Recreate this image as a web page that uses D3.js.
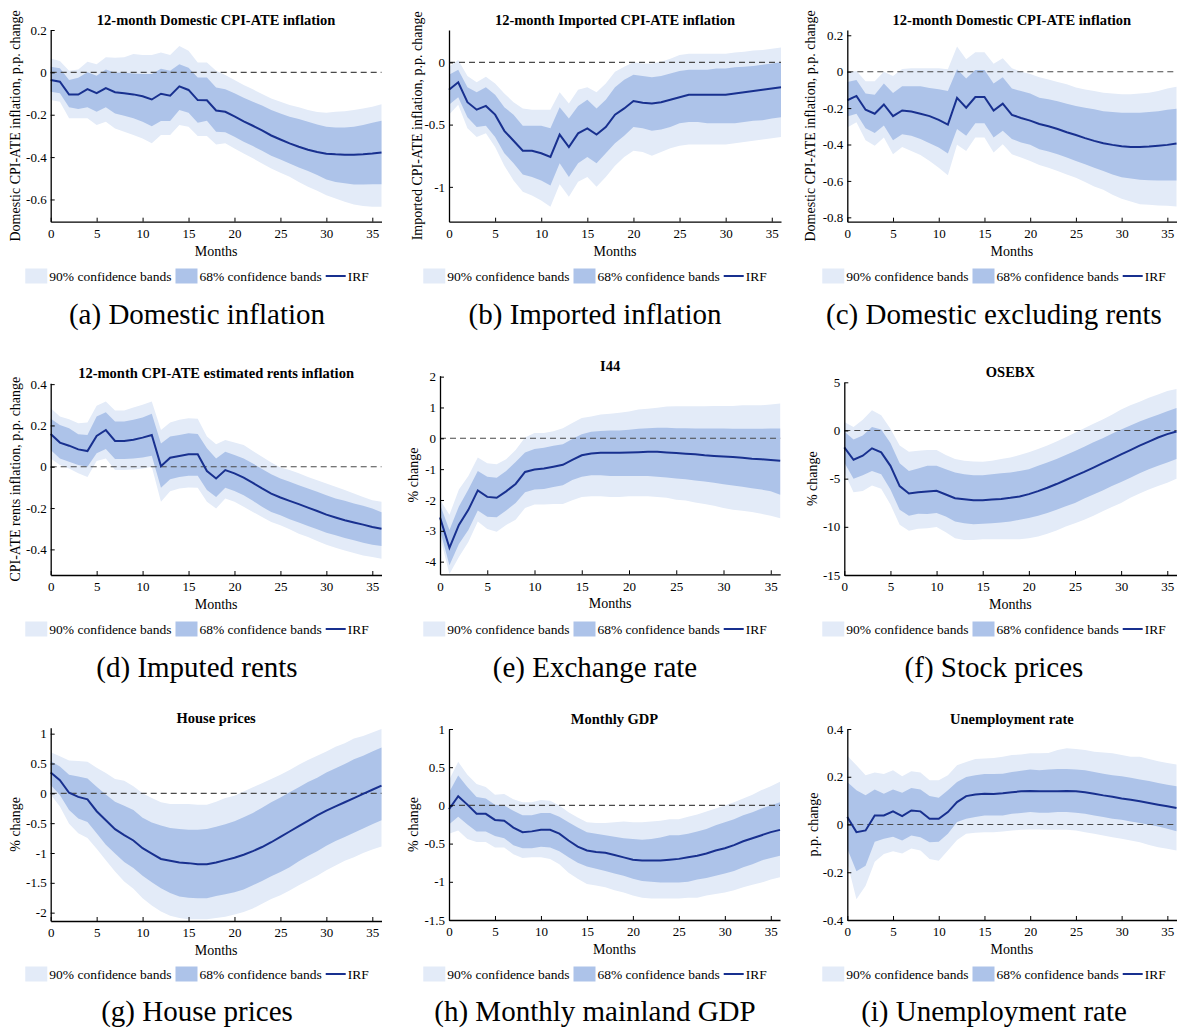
<!DOCTYPE html>
<html>
<head>
<meta charset="utf-8">
<script src="https://cdn.jsdelivr.net/npm/d3@7"></script>
<style>
  body { margin: 0; background: #fff; }
  svg { display: block; }
  text { font-family: "Liberation Serif", "Times New Roman", serif; fill: #000; }
</style>
</head>
<body>
<svg id="chart" width="1181" height="1030"></svg>
<script>
// months after the shock
const months = d3.range(0, 37);
const xTicks = [0, 5, 10, 15, 20, 25, 30, 35];

// (a) domestic CPI-ATE inflation
const domIrf  = [-0.036,-0.044,-0.105,-0.105,-0.079,-0.098,-0.074,-0.094,-0.099,-0.104,-0.113,-0.128,-0.101,-0.110,-0.066,-0.083,-0.131,-0.132,-0.180,-0.186,-0.208,-0.231,-0.252,-0.274,-0.298,-0.317,-0.335,-0.351,-0.365,-0.376,-0.384,-0.387,-0.389,-0.389,-0.387,-0.383,-0.378];
const domHi68 = [0.027,0.019,-0.036,-0.025,0.0,-0.016,0.014,-0.002,-0.002,-0.005,-0.008,-0.008,0.017,0.008,0.038,0.022,-0.024,-0.024,-0.071,-0.080,-0.099,-0.120,-0.139,-0.157,-0.178,-0.194,-0.209,-0.220,-0.233,-0.246,-0.257,-0.260,-0.260,-0.257,-0.249,-0.238,-0.228];
const domLo68 = [-0.091,-0.099,-0.165,-0.173,-0.165,-0.186,-0.165,-0.194,-0.205,-0.217,-0.233,-0.254,-0.230,-0.230,-0.178,-0.191,-0.238,-0.228,-0.280,-0.283,-0.304,-0.328,-0.348,-0.370,-0.394,-0.411,-0.430,-0.449,-0.466,-0.485,-0.506,-0.517,-0.524,-0.529,-0.529,-0.528,-0.528];
const domHi90 = [0.066,0.054,0.008,0.014,0.050,0.038,0.071,0.069,0.071,0.087,0.082,0.082,0.094,0.082,0.124,0.102,0.046,0.046,0.008,-0.013,-0.036,-0.060,-0.080,-0.102,-0.123,-0.139,-0.154,-0.165,-0.178,-0.187,-0.191,-0.186,-0.183,-0.178,-0.170,-0.162,-0.150];
const domLo90 = [-0.131,-0.139,-0.217,-0.217,-0.217,-0.249,-0.233,-0.265,-0.280,-0.296,-0.312,-0.335,-0.296,-0.296,-0.249,-0.257,-0.301,-0.301,-0.340,-0.335,-0.359,-0.383,-0.406,-0.430,-0.454,-0.474,-0.493,-0.517,-0.540,-0.559,-0.580,-0.595,-0.611,-0.624,-0.631,-0.635,-0.635];
const domTicks = [0.2, 0, -0.2, -0.4, -0.6];

// (b) imported CPI-ATE inflation
const impIrf  = [-0.22,-0.16,-0.32,-0.38,-0.35,-0.42,-0.55,-0.63,-0.71,-0.71,-0.73,-0.76,-0.58,-0.68,-0.57,-0.53,-0.58,-0.52,-0.42,-0.37,-0.31,-0.325,-0.33,-0.32,-0.30,-0.28,-0.26,-0.26,-0.26,-0.26,-0.26,-0.25,-0.24,-0.23,-0.22,-0.21,-0.20];
const impHi68 = [-0.10,-0.06,-0.20,-0.24,-0.20,-0.26,-0.36,-0.42,-0.51,-0.51,-0.51,-0.53,-0.36,-0.45,-0.35,-0.30,-0.37,-0.30,-0.20,-0.14,-0.10,-0.11,-0.12,-0.11,-0.09,-0.07,-0.06,-0.06,-0.06,-0.05,-0.05,-0.04,-0.035,-0.03,-0.02,-0.01,0.0];
const impLo68 = [-0.34,-0.28,-0.44,-0.52,-0.51,-0.60,-0.73,-0.81,-0.90,-0.92,-0.95,-0.99,-0.81,-0.92,-0.81,-0.76,-0.81,-0.73,-0.65,-0.59,-0.52,-0.53,-0.55,-0.54,-0.52,-0.49,-0.48,-0.48,-0.49,-0.49,-0.49,-0.49,-0.48,-0.47,-0.465,-0.45,-0.44];
const impHi90 = [-0.035,0.02,-0.11,-0.16,-0.115,-0.17,-0.25,-0.32,-0.37,-0.38,-0.38,-0.38,-0.24,-0.33,-0.22,-0.20,-0.24,-0.17,-0.075,-0.035,0.0,-0.01,-0.01,0.005,0.03,0.06,0.07,0.07,0.07,0.07,0.07,0.08,0.085,0.095,0.10,0.11,0.12];
const impLo90 = [-0.42,-0.34,-0.53,-0.60,-0.57,-0.68,-0.83,-0.95,-1.04,-1.07,-1.11,-1.16,-0.98,-1.08,-0.96,-0.92,-1.00,-0.92,-0.83,-0.76,-0.71,-0.72,-0.75,-0.72,-0.69,-0.67,-0.66,-0.66,-0.66,-0.66,-0.66,-0.65,-0.64,-0.63,-0.62,-0.61,-0.60];
const impTicks = [0, -0.5, -1];

// (c) domestic excluding rents
const exrIrf  = [-0.157,-0.133,-0.209,-0.231,-0.180,-0.244,-0.213,-0.219,-0.231,-0.244,-0.265,-0.291,-0.144,-0.198,-0.139,-0.139,-0.213,-0.176,-0.237,-0.254,-0.269,-0.287,-0.300,-0.315,-0.333,-0.348,-0.365,-0.380,-0.393,-0.402,-0.409,-0.413,-0.413,-0.411,-0.407,-0.402,-0.394];
const exrHi68 = [-0.056,-0.046,-0.120,-0.126,-0.065,-0.117,-0.080,-0.080,-0.080,-0.089,-0.096,-0.106,0.013,-0.037,0.009,0.009,-0.065,-0.031,-0.093,-0.106,-0.120,-0.143,-0.152,-0.163,-0.176,-0.189,-0.198,-0.207,-0.217,-0.222,-0.226,-0.226,-0.226,-0.222,-0.217,-0.209,-0.204];
const exrLo68 = [-0.246,-0.231,-0.311,-0.337,-0.296,-0.376,-0.343,-0.352,-0.370,-0.393,-0.417,-0.450,-0.315,-0.352,-0.283,-0.283,-0.361,-0.324,-0.370,-0.389,-0.402,-0.426,-0.439,-0.454,-0.472,-0.491,-0.509,-0.528,-0.546,-0.565,-0.580,-0.587,-0.593,-0.596,-0.598,-0.598,-0.598];
const exrHi90 = [-0.006,0.004,-0.052,-0.052,0.0,-0.024,0.015,0.019,0.019,0.019,0.019,0.013,0.139,0.069,0.107,0.107,0.043,0.074,0.019,0.0,-0.013,-0.031,-0.043,-0.056,-0.069,-0.087,-0.098,-0.106,-0.115,-0.120,-0.124,-0.124,-0.120,-0.115,-0.106,-0.093,-0.083];
const exrLo90 = [-0.306,-0.278,-0.376,-0.407,-0.361,-0.454,-0.413,-0.435,-0.457,-0.491,-0.528,-0.569,-0.402,-0.435,-0.361,-0.361,-0.444,-0.398,-0.454,-0.472,-0.491,-0.513,-0.528,-0.546,-0.565,-0.583,-0.606,-0.630,-0.648,-0.676,-0.698,-0.713,-0.728,-0.731,-0.735,-0.737,-0.741];
const exrTicks = [0.2, 0, -0.2, -0.4, -0.6, -0.8];

// (d) imputed rents
const rentIrf  = [0.159,0.117,0.102,0.084,0.076,0.149,0.178,0.125,0.125,0.131,0.141,0.154,0.003,0.044,0.052,0.060,0.060,-0.021,-0.057,-0.016,-0.032,-0.053,-0.078,-0.105,-0.130,-0.149,-0.165,-0.181,-0.198,-0.214,-0.232,-0.246,-0.259,-0.270,-0.280,-0.292,-0.300];
const rentHi68 = [0.232,0.202,0.186,0.157,0.154,0.243,0.264,0.219,0.219,0.227,0.238,0.256,0.113,0.146,0.154,0.162,0.159,0.089,0.040,0.073,0.057,0.040,0.016,-0.011,-0.036,-0.057,-0.073,-0.089,-0.105,-0.121,-0.138,-0.154,-0.165,-0.178,-0.189,-0.202,-0.220];
const rentLo68 = [0.081,0.040,0.024,0.008,0.0,0.065,0.086,0.037,0.037,0.040,0.045,0.053,-0.102,-0.060,-0.049,-0.044,-0.044,-0.113,-0.146,-0.102,-0.117,-0.138,-0.165,-0.194,-0.219,-0.235,-0.254,-0.270,-0.287,-0.303,-0.319,-0.332,-0.345,-0.356,-0.368,-0.377,-0.384];
const rentHi90 = [0.283,0.243,0.230,0.211,0.214,0.295,0.316,0.272,0.272,0.287,0.300,0.316,0.178,0.214,0.227,0.235,0.232,0.146,0.109,0.130,0.118,0.105,0.076,0.049,0.021,-0.003,-0.016,-0.032,-0.049,-0.065,-0.081,-0.097,-0.113,-0.130,-0.146,-0.162,-0.170];
const rentLo90 = [0.040,0.008,-0.008,-0.032,-0.049,0.028,0.040,-0.016,-0.016,-0.013,-0.008,0.0,-0.170,-0.118,-0.105,-0.100,-0.102,-0.170,-0.202,-0.154,-0.170,-0.194,-0.219,-0.243,-0.267,-0.283,-0.303,-0.324,-0.340,-0.360,-0.377,-0.392,-0.405,-0.418,-0.429,-0.437,-0.445];
const rentTicks = [0.4, 0.2, 0, -0.2, -0.4];

// (e) exchange rate, I44
const fxIrf  = [-2.57,-3.55,-2.81,-2.32,-1.69,-1.90,-1.93,-1.72,-1.48,-1.09,-1.01,-0.98,-0.92,-0.86,-0.70,-0.55,-0.49,-0.47,-0.47,-0.47,-0.46,-0.45,-0.44,-0.44,-0.46,-0.48,-0.50,-0.52,-0.55,-0.57,-0.59,-0.61,-0.63,-0.66,-0.68,-0.70,-0.73];
const fxHi68 = [-2.15,-2.97,-2.21,-1.66,-1.06,-1.25,-1.28,-1.06,-0.77,-0.46,-0.35,-0.31,-0.24,-0.19,-0.02,0.13,0.21,0.24,0.25,0.25,0.28,0.31,0.33,0.34,0.34,0.33,0.33,0.32,0.32,0.32,0.32,0.31,0.31,0.31,0.31,0.32,0.32];
const fxLo68 = [-2.97,-4.12,-3.43,-2.97,-2.34,-2.54,-2.56,-2.34,-2.10,-1.75,-1.66,-1.64,-1.58,-1.52,-1.35,-1.25,-1.20,-1.20,-1.22,-1.22,-1.22,-1.22,-1.22,-1.25,-1.27,-1.30,-1.33,-1.37,-1.40,-1.44,-1.49,-1.53,-1.57,-1.62,-1.66,-1.72,-1.83];
const fxHi90 = [-1.99,-2.48,-1.66,-1.22,-0.62,-0.81,-0.84,-0.68,-0.38,0.03,0.17,0.17,0.23,0.33,0.50,0.66,0.71,0.77,0.80,0.83,0.87,0.93,0.96,0.99,1.03,1.04,1.04,1.04,1.04,1.05,1.05,1.05,1.07,1.07,1.07,1.10,1.13];
const fxLo90 = [-3.19,-4.40,-3.85,-3.36,-2.70,-2.94,-3.03,-2.81,-2.64,-2.26,-2.15,-2.15,-2.13,-2.13,-2.01,-1.90,-1.88,-1.88,-1.90,-1.90,-1.88,-1.88,-1.88,-1.90,-1.93,-1.99,-2.02,-2.08,-2.13,-2.19,-2.26,-2.32,-2.35,-2.39,-2.45,-2.51,-2.59];
const fxTicks = [2, 1, 0, -1, -2, -3, -4];

// (f) stock prices, OSEBX
const stockIrf  = [-1.75,-3.04,-2.62,-1.85,-2.27,-3.67,-5.77,-6.54,-6.40,-6.33,-6.26,-6.64,-7.03,-7.13,-7.24,-7.24,-7.17,-7.10,-6.99,-6.85,-6.61,-6.29,-5.94,-5.56,-5.14,-4.72,-4.30,-3.85,-3.39,-2.94,-2.48,-2.03,-1.57,-1.15,-0.73,-0.38,-0.10];
const stockHi68 = [-0.10,-0.94,-0.52,0.35,0.10,-1.29,-3.39,-4.20,-3.95,-3.67,-3.67,-4.02,-4.37,-4.55,-4.65,-4.65,-4.55,-4.44,-4.37,-4.20,-4.02,-3.67,-3.32,-2.97,-2.55,-2.13,-1.68,-1.22,-0.80,-0.35,0.10,0.52,0.94,1.29,1.64,1.99,2.34];
const stockLo68 = [-3.32,-5.00,-4.65,-4.20,-4.55,-6.12,-8.22,-8.85,-8.64,-8.67,-8.57,-8.92,-9.44,-9.62,-9.72,-9.69,-9.62,-9.55,-9.44,-9.27,-9.09,-8.85,-8.57,-8.22,-7.87,-7.52,-7.06,-6.64,-6.22,-5.77,-5.35,-4.90,-4.44,-4.02,-3.67,-3.32,-2.97];
const stockHi90 = [0.87,0.35,1.12,2.10,1.57,0.17,-1.57,-2.20,-2.10,-2.03,-2.03,-2.55,-2.97,-3.15,-3.22,-3.25,-3.15,-2.97,-2.80,-2.55,-2.27,-1.92,-1.57,-1.15,-0.70,-0.24,0.24,0.70,1.15,1.64,2.17,2.62,2.97,3.39,3.74,4.09,4.30];
const stockLo90 = [-4.37,-6.40,-6.29,-5.70,-6.05,-7.69,-9.79,-10.42,-10.21,-10.14,-10.03,-10.56,-11.19,-11.36,-11.36,-11.29,-11.29,-11.29,-11.29,-11.29,-11.19,-11.01,-10.73,-10.38,-9.97,-9.62,-9.27,-8.85,-8.39,-7.94,-7.52,-6.99,-6.54,-6.12,-5.77,-5.42,-5.00];
const stockTicks = [5, 0, -5, -10, -15];

// (g) house prices
const houseIrf  = [0.35,0.22,0.01,-0.06,-0.10,-0.30,-0.45,-0.60,-0.70,-0.79,-0.92,-1.01,-1.10,-1.13,-1.16,-1.17,-1.19,-1.19,-1.16,-1.12,-1.08,-1.03,-0.97,-0.90,-0.82,-0.73,-0.64,-0.55,-0.46,-0.37,-0.29,-0.22,-0.15,-0.08,-0.01,0.06,0.13];
const houseHi68 = [0.54,0.45,0.31,0.28,0.25,0.11,-0.02,-0.14,-0.21,-0.28,-0.41,-0.49,-0.54,-0.58,-0.60,-0.61,-0.61,-0.60,-0.56,-0.52,-0.47,-0.40,-0.33,-0.24,-0.15,-0.07,0.02,0.10,0.19,0.26,0.35,0.42,0.49,0.57,0.63,0.70,0.77];
const houseLo68 = [0.14,-0.03,-0.28,-0.42,-0.48,-0.67,-0.86,-1.01,-1.15,-1.25,-1.38,-1.49,-1.59,-1.67,-1.73,-1.75,-1.76,-1.76,-1.72,-1.69,-1.66,-1.61,-1.54,-1.47,-1.39,-1.32,-1.24,-1.14,-1.05,-0.97,-0.88,-0.80,-0.73,-0.66,-0.59,-0.52,-0.45];
const houseHi90 = [0.69,0.62,0.55,0.54,0.53,0.43,0.34,0.24,0.21,0.12,0.0,-0.08,-0.15,-0.18,-0.18,-0.18,-0.19,-0.19,-0.14,-0.08,-0.04,0.03,0.10,0.17,0.24,0.31,0.39,0.48,0.56,0.63,0.70,0.78,0.84,0.92,0.96,1.02,1.08];
const houseLo90 = [-0.02,-0.22,-0.51,-0.67,-0.75,-0.93,-1.12,-1.31,-1.48,-1.60,-1.76,-1.88,-1.98,-2.05,-2.09,-2.11,-2.11,-2.11,-2.09,-2.07,-2.03,-1.99,-1.93,-1.85,-1.77,-1.71,-1.63,-1.54,-1.46,-1.38,-1.29,-1.21,-1.13,-1.07,-1.00,-0.94,-0.89];
const houseTicks = [1, 0.5, 0, -0.5, -1, -1.5, -2];

// (h) monthly mainland GDP
const gdpIrf  = [-0.05,0.12,0.01,-0.11,-0.11,-0.19,-0.20,-0.29,-0.35,-0.34,-0.32,-0.32,-0.37,-0.46,-0.54,-0.59,-0.61,-0.62,-0.65,-0.68,-0.71,-0.72,-0.72,-0.72,-0.71,-0.70,-0.68,-0.66,-0.63,-0.59,-0.56,-0.52,-0.47,-0.43,-0.39,-0.35,-0.32];
const gdpHi68 = [0.17,0.39,0.24,0.11,0.09,0.01,0.0,-0.07,-0.13,-0.13,-0.10,-0.10,-0.15,-0.22,-0.29,-0.35,-0.37,-0.39,-0.41,-0.43,-0.44,-0.45,-0.44,-0.42,-0.39,-0.39,-0.37,-0.34,-0.31,-0.26,-0.22,-0.18,-0.13,-0.09,-0.04,0.0,0.04];
const gdpLo68 = [-0.25,-0.15,-0.25,-0.34,-0.34,-0.40,-0.43,-0.52,-0.56,-0.56,-0.54,-0.55,-0.60,-0.68,-0.75,-0.80,-0.83,-0.86,-0.89,-0.92,-0.96,-0.99,-1.00,-1.01,-1.01,-1.01,-1.00,-0.97,-0.95,-0.92,-0.89,-0.86,-0.81,-0.77,-0.72,-0.69,-0.66];
const gdpHi90 = [0.33,0.57,0.40,0.28,0.24,0.14,0.15,0.08,0.04,0.04,0.07,0.06,0.0,-0.09,-0.16,-0.22,-0.23,-0.23,-0.22,-0.21,-0.22,-0.22,-0.21,-0.20,-0.18,-0.18,-0.15,-0.12,-0.08,-0.04,0.0,0.04,0.09,0.14,0.20,0.25,0.31];
const gdpLo90 = [-0.37,-0.33,-0.44,-0.48,-0.48,-0.55,-0.55,-0.64,-0.69,-0.68,-0.68,-0.70,-0.77,-0.88,-0.96,-1.03,-1.05,-1.07,-1.11,-1.14,-1.18,-1.21,-1.22,-1.22,-1.22,-1.22,-1.21,-1.21,-1.18,-1.16,-1.14,-1.11,-1.07,-1.04,-1.01,-0.97,-0.94];
const gdpTicks = [1, 0.5, 0, -0.5, -1, -1.5];

// (i) unemployment rate
const unIrf  = [0.031,-0.032,-0.025,0.038,0.038,0.055,0.035,0.059,0.055,0.024,0.024,0.052,0.094,0.119,0.126,0.129,0.128,0.131,0.135,0.139,0.140,0.139,0.139,0.139,0.140,0.139,0.135,0.129,0.122,0.116,0.109,0.104,0.097,0.090,0.083,0.076,0.069];
const unHi68 = [0.178,0.143,0.122,0.147,0.129,0.147,0.133,0.153,0.147,0.119,0.112,0.143,0.178,0.199,0.206,0.212,0.211,0.213,0.220,0.225,0.230,0.227,0.230,0.232,0.232,0.230,0.227,0.220,0.213,0.206,0.202,0.196,0.189,0.182,0.174,0.167,0.160];
const unLo68 = [-0.102,-0.196,-0.173,-0.072,-0.060,-0.051,-0.067,-0.046,-0.053,-0.074,-0.072,-0.039,0.010,0.024,0.031,0.038,0.038,0.038,0.045,0.048,0.052,0.049,0.049,0.052,0.052,0.049,0.045,0.038,0.031,0.024,0.020,0.013,0.006,-0.001,-0.008,-0.018,-0.028];
const unHi90 = [0.288,0.248,0.206,0.218,0.211,0.227,0.202,0.223,0.218,0.185,0.185,0.206,0.248,0.262,0.274,0.276,0.279,0.284,0.291,0.293,0.298,0.298,0.300,0.312,0.319,0.316,0.312,0.305,0.302,0.298,0.291,0.284,0.284,0.274,0.265,0.258,0.251];
const unLo90 = [-0.159,-0.313,-0.257,-0.156,-0.124,-0.112,-0.121,-0.100,-0.109,-0.145,-0.152,-0.109,-0.065,-0.039,-0.035,-0.032,-0.032,-0.029,-0.025,-0.022,-0.021,-0.021,-0.022,-0.022,-0.022,-0.025,-0.032,-0.039,-0.046,-0.053,-0.060,-0.067,-0.074,-0.086,-0.095,-0.102,-0.109];
const unTicks = [0.4, 0.2, 0, -0.2, -0.4];

const legendLabels = ['90% confidence bands', '68% confidence bands', 'IRF'];

const col90 = '#e3ebf8', col68 = '#adc3e9', colIrf = '#18308f';

// panel setup, box = [left, right, top, bottom] in px
const panels = [
  { title: '12-month Domestic CPI-ATE inflation', ylab: 'Domestic CPI-ATE inflation, p.p. change', cap: '(a) Domestic inflation',
    irf: domIrf, hi68: domHi68, lo68: domLo68, hi90: domHi90, lo90: domLo90, ticks: domTicks,
    dom: [-0.705, 0.2], box: [50.7, 381.5, 30, 221.7], ylx: 15, col: 0, row: 0 },
  { title: '12-month Imported CPI-ATE inflation', ylab: 'Imported CPI-ATE inflation, p.p. change', cap: '(b) Imported inflation',
    irf: impIrf, hi68: impHi68, lo68: impLo68, hi90: impHi90, lo90: impLo90, ticks: impTicks,
    dom: [-1.28, 0.26], box: [449, 781, 30, 221.7], ylx: 416.7, col: 1, row: 0 },
  { title: '12-month Domestic CPI-ATE inflation', ylab: 'Domestic CPI-ATE inflation, p.p. change', cap: '(c) Domestic excluding rents',
    irf: exrIrf, hi68: exrHi68, lo68: exrLo68, hi90: exrHi90, lo90: exrLo90, ticks: exrTicks,
    dom: [-0.824, 0.229], box: [847.3, 1176.5, 30, 221.7], ylx: 810, col: 2, row: 0 },
  { title: '12-month CPI-ATE estimated rents inflation', ylab: 'CPI-ATE rents inflation, p.p. change', cap: '(d) Imputed rents',
    irf: rentIrf, hi68: rentHi68, lo68: rentLo68, hi90: rentHi90, lo90: rentLo90, ticks: rentTicks,
    dom: [-0.524, 0.404], box: [50.7, 381.5, 383.3, 575], ylx: 15, col: 0, row: 1 },
  { title: 'I44', ylab: '% change', cap: '(e) Exchange rate',
    irf: fxIrf, hi68: fxHi68, lo68: fxLo68, hi90: fxHi90, lo90: fxLo90, ticks: fxTicks,
    dom: [-4.41, 2.03], box: [440, 780.2, 375.7, 574.3], ylx: 413.3, col: 1, row: 1 },
  { title: 'OSEBX', ylab: '% change', cap: '(f) Stock prices',
    irf: stockIrf, hi68: stockHi68, lo68: stockLo68, hi90: stockHi90, lo90: stockLo90, ticks: stockTicks,
    dom: [-15, 5], box: [844.3, 1176.5, 382.3, 575], ylx: 811.7, col: 2, row: 1 },
  { title: 'House prices', ylab: '% change', cap: '(g) House prices',
    irf: houseIrf, hi68: houseHi68, lo68: houseLo68, hi90: houseHi90, lo90: houseLo90, ticks: houseTicks,
    dom: [-2.14, 1.1], box: [50.7, 381.5, 727.7, 921], ylx: 15, col: 0, row: 2 },
  { title: 'Monthly GDP', ylab: '% change', cap: '(h) Monthly mainland GDP',
    irf: gdpIrf, hi68: gdpHi68, lo68: gdpLo68, hi90: gdpHi90, lo90: gdpLo90, ticks: gdpTicks,
    dom: [-1.5, 1], box: [449, 780, 729, 920], ylx: 413.3, col: 1, row: 2 },
  { title: 'Unemployment rate', ylab: 'p.p. change', cap: '(i) Unemployment rate',
    irf: unIrf, hi68: unHi68, lo68: unLo68, hi90: unHi90, lo90: unLo90, ticks: unTicks,
    dom: [-0.4, 0.4], box: [847.3, 1176.5, 729, 920], ylx: 813.3, col: 2, row: 2 }
];

const colCenter = [197, 595, 994];
const legendY = [276, 629, 974];
const captionY = [323.5, 677, 1021];

const svg = d3.select('#chart');
svg.append('rect').attr('width', 1181).attr('height', 1030).attr('fill', '#fff');

panels.forEach(p => {
  const [L, R, T, B] = p.box;
  const x = d3.scaleLinear().domain([0, 36]).range([L, R]);
  const y = d3.scaleLinear().domain(p.dom).range([B, T]);
  const g = svg.append('g');

  const band = (lo, hi) => d3.area().x(m => x(m)).y0(m => y(lo[m])).y1(m => y(hi[m]));
  g.append('path').datum(months).attr('d', band(p.lo90, p.hi90)).attr('fill', col90);
  g.append('path').datum(months).attr('d', band(p.lo68, p.hi68)).attr('fill', col68);

  g.append('line')
    .attr('x1', x(0)).attr('x2', x(36))
    .attr('y1', y(0)).attr('y2', y(0))
    .attr('stroke', '#4a4a4a').attr('stroke-width', 1.1)
    .attr('stroke-dasharray', '6,4');

  g.append('path').datum(months)
    .attr('d', d3.line().x(m => x(m)).y(m => y(p.irf[m])))
    .attr('fill', 'none').attr('stroke', colIrf).attr('stroke-width', 2);

  // axes, ticks pointing inward like matlab
  const xa = g.append('g').attr('transform', `translate(0,${B})`)
    .call(d3.axisBottom(x).tickValues(xTicks).tickSizeInner(-4).tickSizeOuter(0).tickPadding(7));
  const ya = g.append('g').attr('transform', `translate(${L},0)`)
    .call(d3.axisLeft(y).tickValues(p.ticks).tickSizeInner(-4).tickSizeOuter(0).tickPadding(4)
      .tickFormat(d => String(+d.toFixed(2))));
  [xa, ya].forEach(a => {
    a.attr('font-family', null).attr('font-size', 13);
    a.select('.domain').attr('stroke', '#000').attr('stroke-width', 1.3);
    a.selectAll('.tick line').attr('stroke', '#000').attr('stroke-width', 1);
    a.selectAll('.tick text').attr('fill', '#000');
  });

  g.append('text')
    .attr('x', (L + R) / 2).attr('y', T - 5)
    .attr('text-anchor', 'middle').attr('font-weight', 'bold').attr('font-size', 14.5)
    .text(p.title);

  g.append('text')
    .attr('transform', `translate(${p.ylx},${(T + B) / 2}) rotate(-90)`)
    .attr('dy', '0.35em').attr('text-anchor', 'middle').attr('font-size', 14)
    .text(p.ylab);

  g.append('text')
    .attr('x', (L + R) / 2).attr('y', B + 34)
    .attr('text-anchor', 'middle').attr('font-size', 14)
    .text('Months');

  // legend under each panel
  const lg = g.append('g');
  const ly = legendY[p.row];
  let cx = 0;
  const sw = 22, sh = 15;
  legendLabels.forEach((lab, i) => {
    if (i < 2) {
      lg.append('rect').attr('x', cx).attr('y', ly - sh / 2).attr('width', sw).attr('height', sh)
        .attr('fill', i === 0 ? col90 : col68);
      cx += sw + 2;
    } else {
      lg.append('line').attr('x1', cx).attr('x2', cx + 20).attr('y1', ly).attr('y2', ly)
        .attr('stroke', colIrf).attr('stroke-width', 2);
      cx += 22;
    }
    const t = lg.append('text').attr('x', cx).attr('y', ly + 4.5).attr('font-size', 13.5).text(lab);
    cx += t.node().getComputedTextLength() + 4;
  });
  lg.attr('transform', `translate(${colCenter[p.col] - (cx - 4) / 2},0)`);

  g.append('text')
    .attr('x', colCenter[p.col]).attr('y', captionY[p.row])
    .attr('text-anchor', 'middle').attr('font-size', 29)
    .text(p.cap);
});
</script>
</body>
</html>
